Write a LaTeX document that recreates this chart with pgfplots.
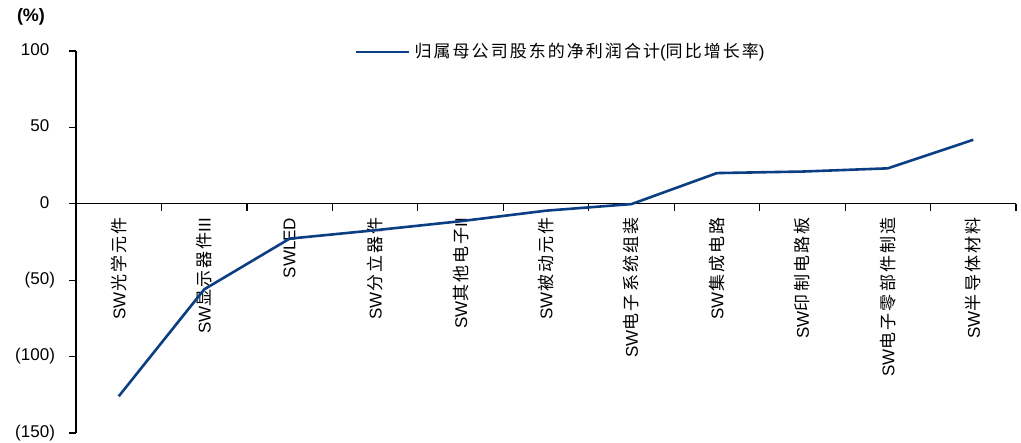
\documentclass[border=0pt]{standalone}
\usepackage{pgfplots}
\pgfplotsset{compat=1.18}
\usepackage{fontspec}
\setmainfont{Liberation Sans}
\newfontfamily\cjk[LetterSpace=12]{Noto Sans CJK SC}

\definecolor{lineblue}{RGB}{12,62,132}

\begin{document}
\begin{tikzpicture}
\useasboundingbox (-38pt,-5pt) rectangle (472.5pt,216.5pt);
\begin{axis}[
  scale only axis, width=470pt, height=191pt,
  xmin=0.5, xmax=11.5, ymin=-150, ymax=100,
  axis x line=middle, axis y line=left,
  hide obscured x ticks=false,
  axis line style={-, black, line width=0.6pt},
  xtick={0.5,1.5,...,11.5},
  x tick label as interval,
  xticklabels={SW{\cjk 光学元件},SW{\cjk 显示器件}III,SWLED,SW{\cjk 分立器件},SW{\cjk 其他电子}II,SW{\cjk 被动元件},SW{\cjk 电子系统组装},SW{\cjk 集成电路},SW{\cjk 印制电路板},SW{\cjk 电子零部件制造},SW{\cjk 半导体材料}},
  ytick={-150,-100,-50,0,50,100},
  yticklabels={(150),(100),(50),0\phantom{)},50\phantom{)},100\phantom{)}},
  xtick align=outside, ytick align=outside,
  major tick length=3.5pt,
  tick style={black, line width=0.6pt},
  ticklabel style={font=\fontsize{8.5}{10}\selectfont},
  x tick label style={rotate=90, anchor=east, yshift=0pt},
  y tick label style={anchor=east, xshift=-3.5pt},
  legend style={draw=none, fill=none, at={(0.29,0.997)}, anchor=west,
    font=\fontsize{8.5}{10}\selectfont},
  legend cell align=left,
  legend image code/.code={\draw[#1] (0pt,0pt) -- (26.5pt,0pt);},
]
\addplot[lineblue, line width=1.3pt] coordinates {
  (1,-126) (2,-56) (3,-22.8) (4,-17.3) (5,-11.4) (6,-4.5)
  (7,-0.2) (8,20.1) (9,21.1) (10,23.2) (11,41.9)
};
\addlegendentry{{\cjk 归属母公司股东的净利润合计}({\cjk 同比增长率})}
\end{axis}
\node[font=\bfseries\fontsize{9}{10}\selectfont] at (-22.5pt,208pt) {(\%)};
\end{tikzpicture}
\end{document}
